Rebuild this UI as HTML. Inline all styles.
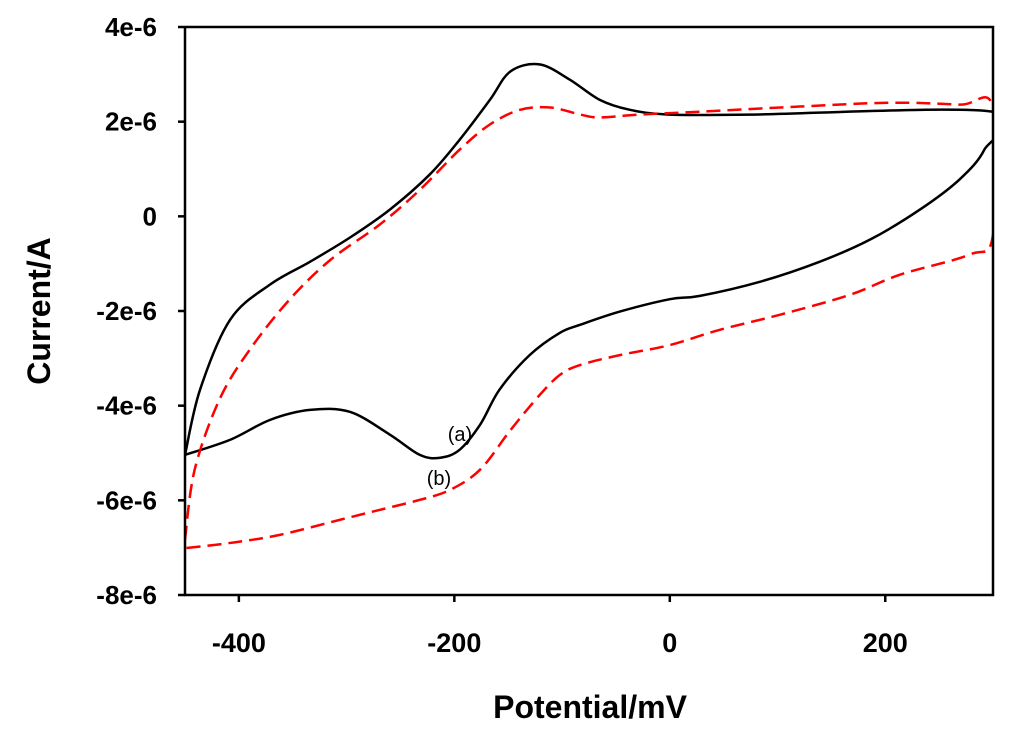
<!DOCTYPE html>
<html><head><meta charset="utf-8"><style>
body{margin:0;background:#fff}
svg text{font-family:"Liberation Sans",Arial,sans-serif;font-weight:bold}
</style></head><body>
<svg id="c" width="1024" height="744" xmlns="http://www.w3.org/2000/svg"></svg>
<script>
const xTicks=[-400,-200,0,200];
const yTicks=[4,2,0,-2,-4,-6,-8];
const yTickLabels=["4e-6","2e-6","0","-2e-6","-4e-6","-6e-6","-8e-6"];
const aX=[-450,-436,-408,-371,-334,-297,-260,-223,-195,-167,-148,-121,-93,-65,-37,0,74,300,292,269,232,186,139,84,28,0,-46,-83,-102,-130,-158,-176,-195,-213,-232,-260,-297,-334,-371,-408,-450];
const aY=[-5.04,-3.66,-2.18,-1.44,-0.96,-0.45,0.14,0.88,1.62,2.46,3.06,3.21,2.89,2.46,2.25,2.15,2.15,2.21,1.41,0.78,0.14,-0.49,-0.96,-1.38,-1.68,-1.75,-2.01,-2.29,-2.46,-2.93,-3.66,-4.40,-4.93,-5.10,-5.04,-4.61,-4.13,-4.09,-4.30,-4.72,-5.04];
const bX=[-450,-441,-418,-390,-353,-315,-269,-232,-195,-167,-139,-111,-83,-65,-28,28,121,204,269,300,300,278,214,167,102,46,0,-46,-83,-102,-121,-148,-176,-204,-232,-269,-306,-362,-408,-450];
const bY=[-6.83,-5.35,-3.87,-2.82,-1.76,-0.92,-0.17,0.56,1.41,1.94,2.25,2.30,2.15,2.09,2.15,2.21,2.32,2.40,2.36,2.30,-0.39,-0.81,-1.23,-1.66,-2.08,-2.40,-2.72,-2.93,-3.14,-3.35,-3.78,-4.52,-5.35,-5.78,-5.99,-6.20,-6.41,-6.73,-6.90,-7.01];
const L=185,R=993,T=27,B=595;
const sx=v=>L+(v+450)/750*(R-L);
const sy=v=>T+(4-v)/12*(B-T);
const svg=document.getElementById('c');
const NS='http://www.w3.org/2000/svg';
function mk(t,a,p){const e=document.createElementNS(NS,t);for(const k in a)e.setAttribute(k,a[k]);(p||svg).appendChild(e);return e;}
function smooth(xs,ys){const p=xs.map((x,i)=>[sx(x),sy(ys[i])]);let d='M'+p[0][0]+','+p[0][1];
for(let i=0;i<p.length-1;i++){const p0=p[Math.max(i-1,0)],p1=p[i],p2=p[i+1],p3=p[Math.min(i+2,p.length-1)];
d+=' C'+(p1[0]+(p2[0]-p0[0])/6)+','+(p1[1]+(p2[1]-p0[1])/6)+' '+(p2[0]-(p3[0]-p1[0])/6)+','+(p2[1]-(p3[1]-p1[1])/6)+' '+p2[0]+','+p2[1];}return d;}
const clip=mk('clipPath',{id:'cp'});mk('rect',{x:L,y:T,width:R-L,height:B-T},clip);
const ca=mk('path',{d:smooth(aX,aY),fill:'none',stroke:'#000','stroke-width':2.5,'clip-path':'url(#cp)'});


const cb=mk('path',{d:smooth(bX,bY),fill:'none',stroke:'#f00','stroke-width':2.5,'stroke-dasharray':'14,7','clip-path':'url(#cp)'});


const ax=mk('path',{d:`M${L},${T} L${L},${B} L${R},${B} L${R},${T} L${L},${T}`,fill:'none',stroke:'#000','stroke-width':2.5});


xTicks.forEach(v=>{const x=sx(v);mk('line',{x1:x,x2:x,y1:B,y2:B+7,stroke:'#000','stroke-width':2.5});
const t=mk('text',{x:x,y:B+57,'text-anchor':'middle','font-size':27});t.textContent=v;

});
yTicks.forEach((v,i)=>{const y=sy(v);mk('line',{x1:L-7,x2:L,y1:y,y2:y,stroke:'#000','stroke-width':2.5});
const t=mk('text',{x:157,y:y+9,'text-anchor':'end','font-size':26});t.textContent=yTickLabels[i];

});
const xt=mk('text',{x:590,y:718,'text-anchor':'middle','font-size':32});xt.textContent='Potential/mV';


const yt=mk('text',{x:0,y:0,'text-anchor':'middle','font-size':32,transform:'translate(50,311) rotate(-90)'});yt.textContent='Current/A';


const la=mk('text',{x:460,y:441,'text-anchor':'middle','font-size':20,style:'font-weight:normal'});la.textContent='(a)';


const lb=mk('text',{x:439,y:485,'text-anchor':'middle','font-size':20,style:'font-weight:normal'});lb.textContent='(b)';


</script>
</body></html>
